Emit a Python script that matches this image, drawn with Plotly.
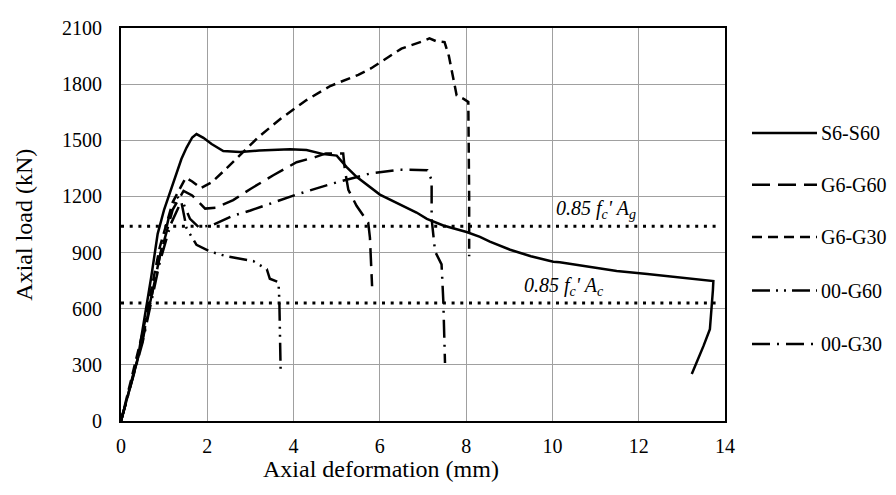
import plotly.graph_objects as go

# ---------------- data ----------------
s6_s60_x = [0, 0.39, 0.70, 0.85, 1.0, 1.21, 1.40, 1.52, 1.65, 1.75, 1.91, 2.10, 2.37, 2.76, 3.2, 3.92, 4.3, 4.69, 5.0, 5.23, 5.46, 6.0, 6.47, 6.85, 7.09, 7.47, 8.01, 8.32, 8.55, 9.02, 9.5, 10.02, 10.17, 10.8, 11.49, 12.2, 12.9, 13.5, 13.73, 13.72, 13.65, 13.5, 13.23]
s6_s60_y = [0, 334, 768, 1000, 1130, 1270, 1400, 1461, 1515, 1533, 1513, 1480, 1443, 1438, 1445, 1452, 1448, 1426, 1418, 1357, 1305, 1210, 1158, 1114, 1080, 1045, 1010, 984, 958, 915, 880, 851, 848, 825, 802, 785, 768, 755, 748, 700, 490, 400, 251]

g6_g60_x = [0, 0.5, 0.9, 1.2, 1.45, 1.65, 1.95, 2.2, 2.6, 3.0, 3.53, 4.07, 4.5, 4.75, 5.15, 5.19, 5.27, 5.46, 5.73, 5.77, 5.82]
g6_g60_y = [0, 430, 880, 1130, 1230, 1205, 1135, 1140, 1180, 1240, 1313, 1383, 1410, 1430, 1430, 1340, 1235, 1150, 1060, 980, 720]

g6_g30_x = [0, 0.5, 0.9, 1.2, 1.5, 1.65, 1.85, 2.1, 2.4, 2.8, 3.2, 3.7, 4.3, 4.85, 5.5, 5.8, 6.1, 6.5, 7.0, 7.15, 7.3, 7.5, 7.6, 7.72, 7.78, 7.95, 8.05, 8.07, 8.07]
g6_g30_y = [0, 470, 930, 1170, 1300, 1280, 1245, 1275, 1340, 1430, 1520, 1615, 1715, 1790, 1850, 1885, 1930, 1990, 2030, 2045, 2030, 2025, 1950, 1800, 1740, 1720, 1705, 1200, 880]

g00_g60_x = [0, 0.5, 0.9, 1.1, 1.3, 1.4, 1.52, 1.75, 2.06, 2.45, 3.07, 3.38, 3.45, 3.65, 3.67, 3.69, 3.70]
g00_g60_y = [0, 440, 880, 1080, 1200, 1170, 1030, 941, 906, 880, 854, 811, 760, 742, 646, 456, 270]

g00_g30_x = [0, 0.5, 0.9, 1.15, 1.35, 1.45, 1.6, 1.8, 2.1, 2.6, 3.0, 4.07, 4.92, 5.77, 6.47, 7.1, 7.2, 7.2, 7.28, 7.43, 7.47, 7.51]
g00_g30_y = [0, 420, 850, 1050, 1150, 1160, 1080, 1036, 1045, 1097, 1125, 1210, 1270, 1322, 1343, 1340, 1288, 1080, 906, 837, 646, 310]

series_names = ["S6-S60", "G6-G60", "G6-G30", "00-G60", "00-G30"]

ref_x = [0, 13.85]
ref_ag = [1040, 1040]
ref_ac = [630, 630]

x_ticks = [0, 2, 4, 6, 8, 10, 12, 14]
y_ticks = [0, 300, 600, 900, 1200, 1500, 1800, 2100]

# ---------------- styles ----------------
FONT = "Liberation Serif"
dashes = ["solid", "18px,8px", "10px,6px", "18px,6px,2px,6px,2px,6px", "18px,7px,2px,7px"]
xs = [s6_s60_x, g6_g60_x, g6_g30_x, g00_g60_x, g00_g30_x]
ys = [s6_s60_y, g6_g60_y, g6_g30_y, g00_g60_y, g00_g30_y]

fig = go.Figure()
for name, x, y, d in zip(series_names, xs, ys, dashes):
    fig.add_trace(go.Scatter(x=x, y=y, mode="lines", name=name,
                             line=dict(color="black", width=2.5, dash=d),
                             showlegend=False))

for yy in (ref_ag, ref_ac):
    fig.add_trace(go.Scatter(x=ref_x, y=yy, mode="lines", showlegend=False,
                             line=dict(color="black", width=3, dash="3px,5.7px")))

# manual legend (paper coords relative to plot area)
leg_y = [0.733, 0.601, 0.468, 0.332, 0.196]
shapes = []
annotations = []
for name, d, ly in zip(series_names, dashes, leg_y):
    shapes.append(dict(type="line", xref="paper", yref="paper",
                       x0=1.0447, x1=1.1523, y0=ly, y1=ly,
                       line=dict(color="black", width=2.5, dash=d)))
    annotations.append(dict(xref="paper", yref="paper", x=1.155, y=ly,
                            text=name, showarrow=False, xanchor="left", yanchor="middle",
                            font=dict(family=FONT, size=20, color="black")))

annotations.append(dict(x=10.04, y=ref_ag[0], xref="x", yref="y", showarrow=False,
                        xanchor="left", yanchor="bottom", yshift=2,
                        text="<i>0.85 f<sub>c</sub>' A<sub>g</sub></i>",
                        font=dict(family=FONT, size=20, color="black")))
annotations.append(dict(x=9.3, y=ref_ac[0], xref="x", yref="y", showarrow=False,
                        xanchor="left", yanchor="bottom", yshift=2,
                        text="<i>0.85 f<sub>c</sub>' A<sub>c</sub></i>",
                        font=dict(family=FONT, size=20, color="black")))

# axis titles
annotations.append(dict(xref="paper", yref="paper", x=0.43, y=-0.121,
                        text="Axial deformation (mm)", showarrow=False,
                        xanchor="center", yanchor="middle",
                        font=dict(family=FONT, size=24, color="black")))
annotations.append(dict(xref="paper", yref="paper", x=-0.162, y=0.50,
                        text="Axial load (kN)", showarrow=False, textangle=-90,
                        xanchor="center", yanchor="middle",
                        font=dict(family=FONT, size=24, color="black")))

fig.update_layout(
    width=888, height=487,
    margin=dict(l=113, r=171, t=9, b=74),
    paper_bgcolor="white", plot_bgcolor="white",
    font=dict(family=FONT, size=20, color="black"),
    shapes=shapes, annotations=annotations,
)
fig.update_xaxes(range=[0, 14], tickvals=x_ticks, ticktext=[str(v) for v in x_ticks],
                 showgrid=True, gridcolor="#a0a0a0", gridwidth=1,
                 showline=True, linecolor="black", linewidth=2, mirror=True,
                 zeroline=False, ticks="", ticklen=0, ticklabelstandoff=6,
                 tickfont=dict(family=FONT, size=20))
fig.update_yaxes(range=[0, 2100], tickvals=y_ticks, ticktext=[str(v) for v in y_ticks],
                 showgrid=True, gridcolor="#a0a0a0", gridwidth=1,
                 showline=True, linecolor="black", linewidth=2, mirror=True,
                 zeroline=False, ticks="", ticklen=0, ticklabelstandoff=13,
                 tickfont=dict(family=FONT, size=20))

fig.write_html("out.html")
